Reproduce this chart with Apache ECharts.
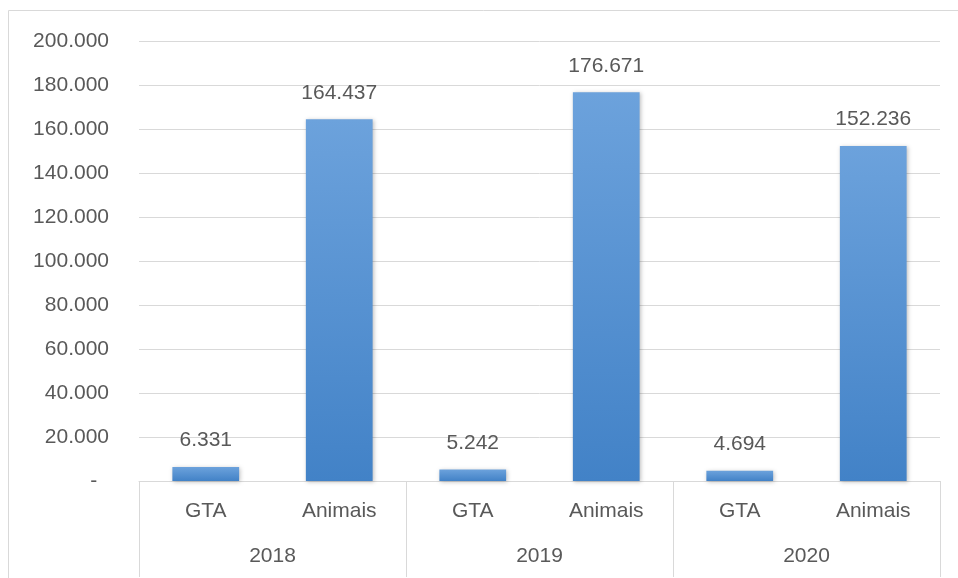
<!DOCTYPE html>
<html>
<head>
<meta charset="utf-8">
<script src="https://cdn.jsdelivr.net/npm/echarts@6/dist/echarts.min.js"></script>
<style>
  html, body { margin: 0; padding: 0; background: #fff; }
  #chart { width: 958px; height: 578px; }
</style>
</head>
<body>
<div id="chart"></div>
<script>
// categorias (nível 1 e nível 2)
var tipos = ['GTA', 'Animais', 'GTA', 'Animais', 'GTA', 'Animais'];
var anos = ['2018', '2019', '2020'];
// valores
var valores = [6331, 164437, 5242, 176671, 4694, 152236];

// formato 000.000
function fmt(v) {
    if (v === 0) return '-  ';
    return String(v).replace(/\B(?=(\d{3})+(?!\d))/g, '.');
}

var chart = echarts.init(document.getElementById('chart'));
var corTexto = '#595959';
var fonte = 'Liberation Sans, Arial, sans-serif';
var tam = 21;

var option = {
    animation: false,
    graphic: [{
        type: 'rect',
        shape: { x: 8.5, y: 10.5, width: 970, height: 600 },
        style: { fill: 'none', stroke: '#d9d9d9', lineWidth: 1 },
        silent: true
    }],
    grid: {
        left: 139,
        right: 18,
        top: 41,
        bottom: 97
    },
    xAxis: [{
        type: 'category',
        data: tipos,
        axisLine: { show: true, lineStyle: { color: '#d9d9d9' } },
        axisTick: { show: false },
        axisLabel: {
            interval: 0,
            margin: 20,
            color: corTexto,
            fontSize: tam,
            fontFamily: fonte
        }
    }, {
        type: 'category',
        data: anos,
        position: 'bottom',
        axisLine: { show: false },
        axisTick: {
            show: true,
            interval: 0,
            length: 96,
            lineStyle: { color: '#d9d9d9' }
        },
        axisLabel: {
            interval: 0,
            margin: 65,
            color: corTexto,
            fontSize: tam,
            fontFamily: fonte
        }
    }],
    yAxis: {
        type: 'value',
        min: 0,
        max: 200000,
        interval: 20000,
        axisLine: { show: false },
        axisTick: { show: false },
        splitLine: { lineStyle: { color: '#d9d9d9' } },
        axisLabel: {
            margin: 30,
            color: corTexto,
            fontSize: tam,
            fontFamily: fonte,
            formatter: fmt
        }
    },
    series: [{
        type: 'bar',
        xAxisIndex: 0,
        data: valores,
        barWidth: '50%',
        itemStyle: {
            color: new echarts.graphic.LinearGradient(0, 0, 0, 1, [
                { offset: 0, color: '#6ca2dc' },
                { offset: 1, color: '#4282c7' }
            ]),
            shadowBlur: 4,
            shadowOffsetX: 1,
            shadowOffsetY: 1,
            shadowColor: 'rgba(0,0,0,0.25)'
        },
        label: {
            show: true,
            position: 'top',
            distance: 16,
            color: corTexto,
            fontSize: tam,
            fontFamily: fonte,
            formatter: function (p) { return fmt(p.value); }
        }
    }]
};

chart.setOption(option);
window.onresize = function () {
    chart.resize();
};
</script>
</body>
</html>
